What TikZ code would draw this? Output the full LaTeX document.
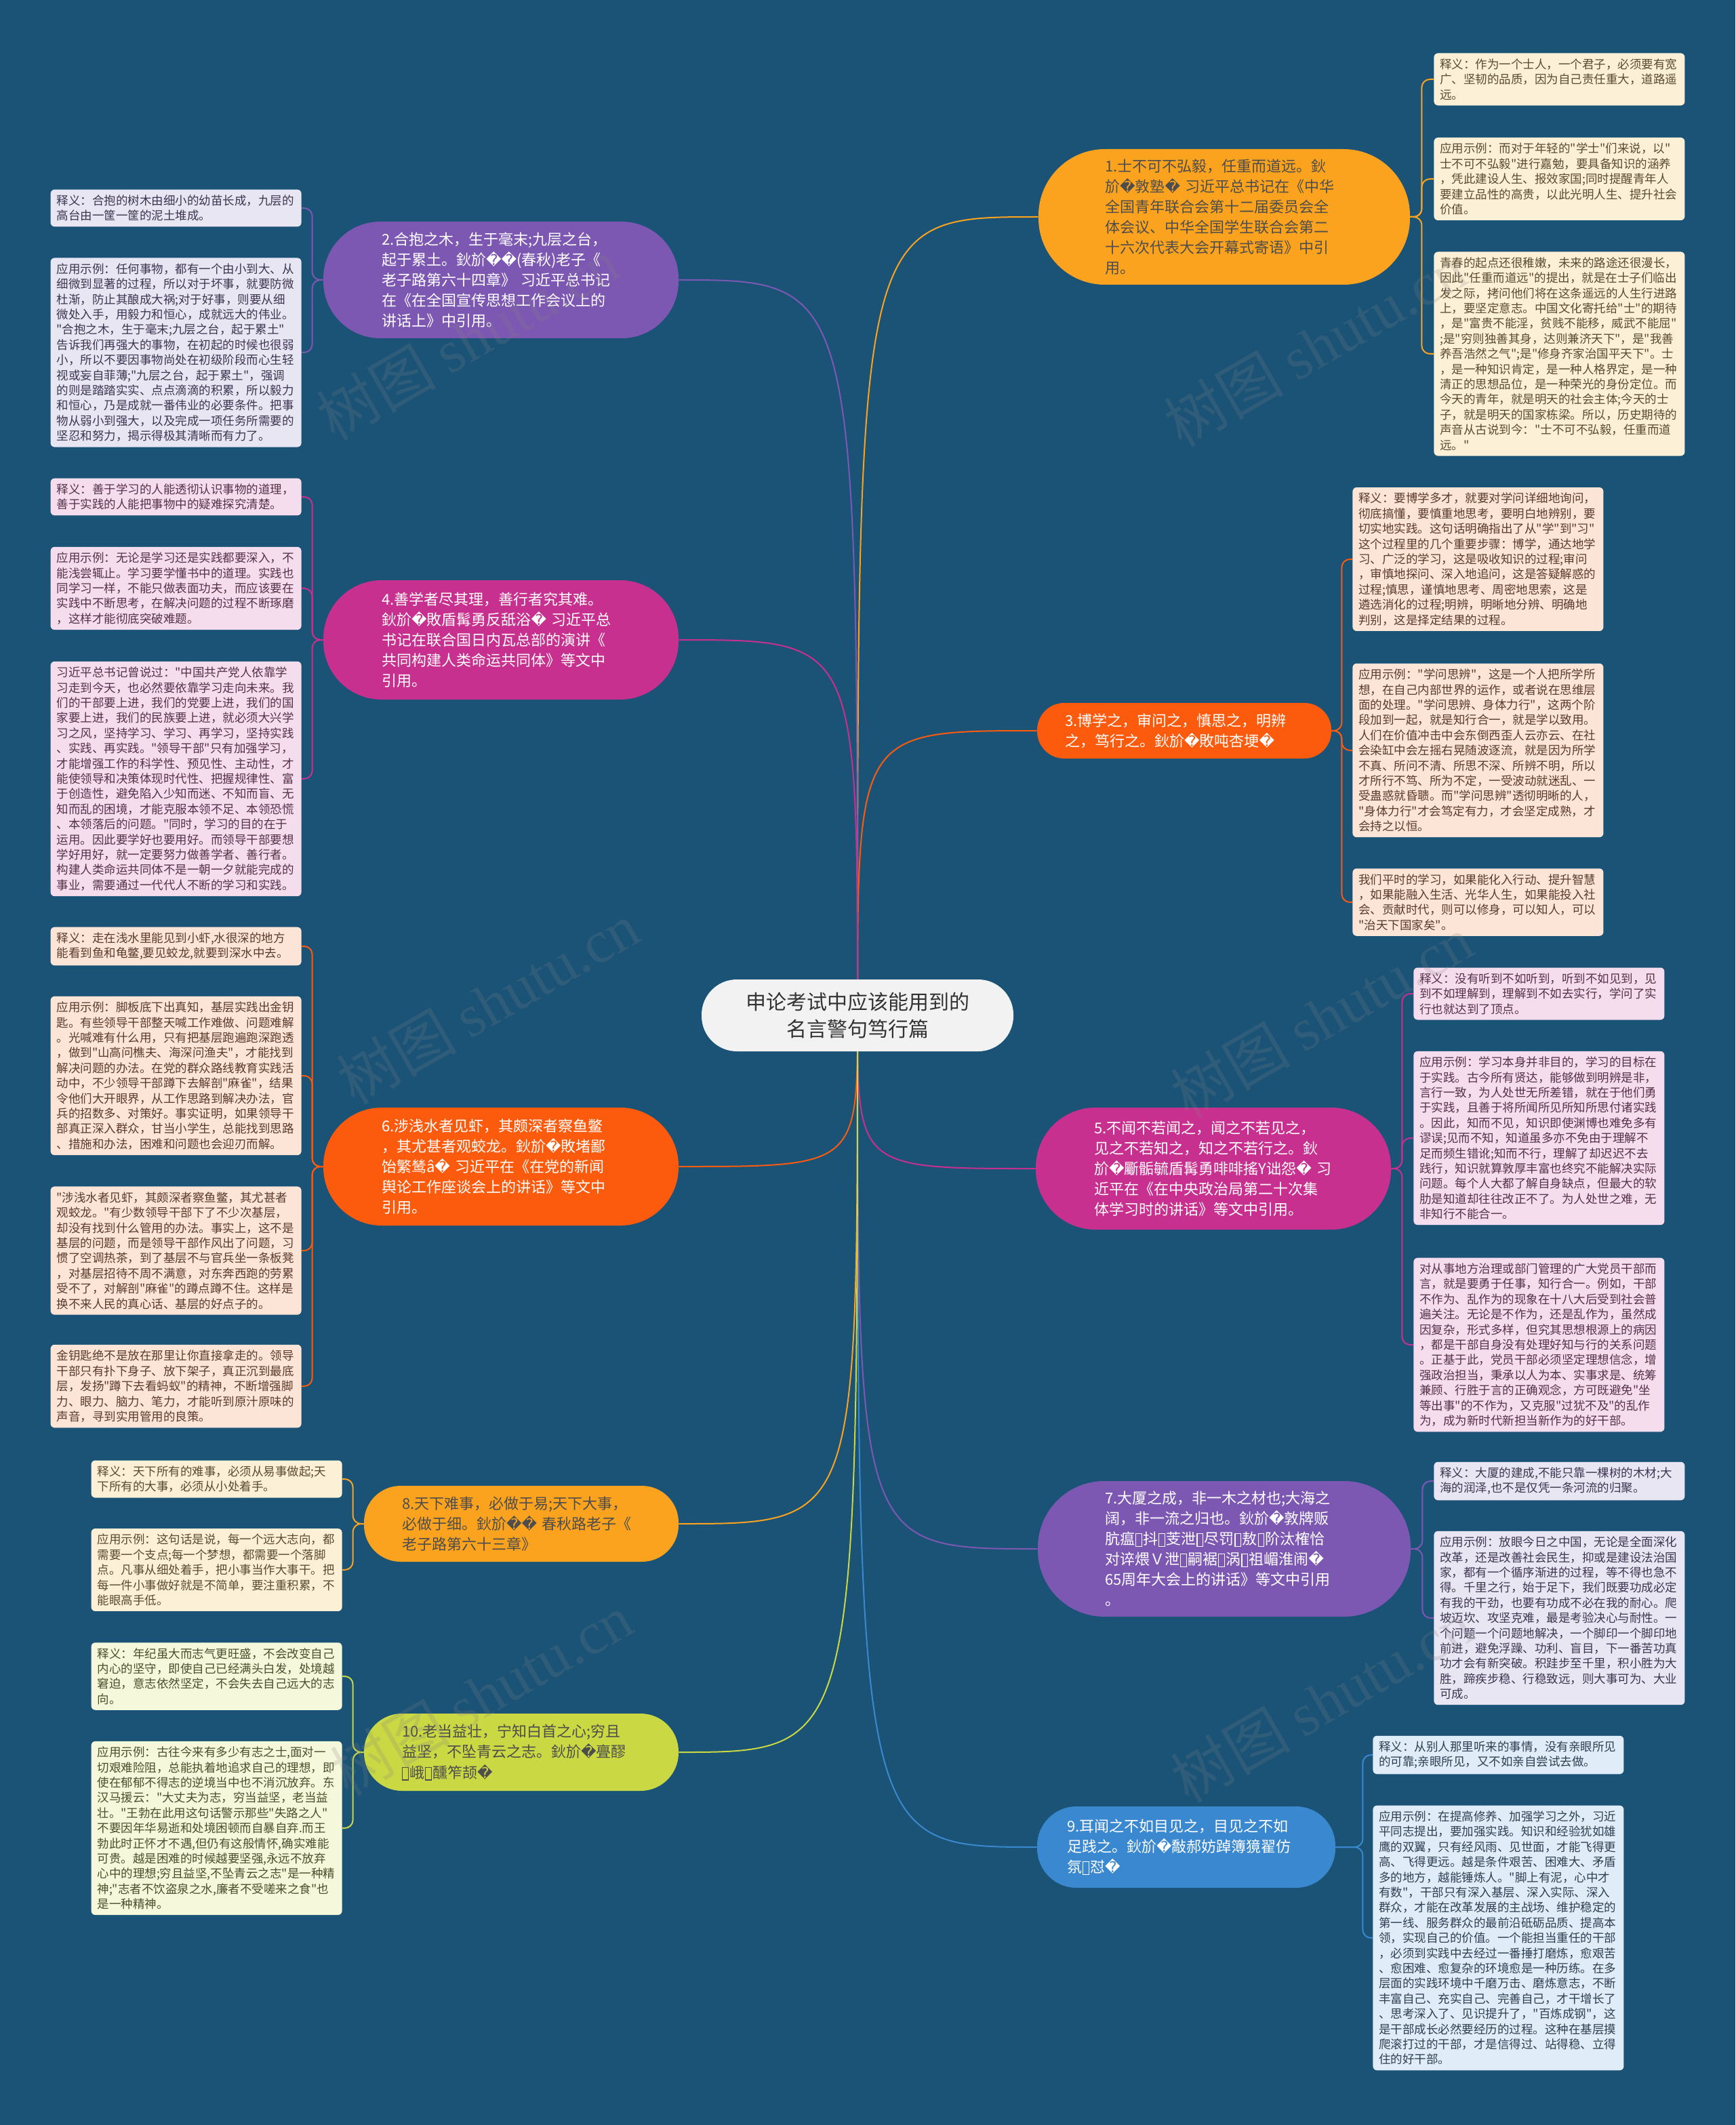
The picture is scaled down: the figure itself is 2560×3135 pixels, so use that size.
\documentclass[tikz,border=0pt]{standalone}
\usepackage{fontspec}
\setmainfont{Noto Sans CJK SC}
\newfontfamily\cjkfont{Noto Sans CJK SC}
\newfontfamily\dvfont{DejaVu Sans}
\newfontfamily\serifwm{Liberation Serif}
\definecolor{bgblue}{HTML}{1B5377}
\definecolor{hubgray}{HTML}{F2F2F2}
\definecolor{hubtext}{HTML}{333333}
\definecolor{darkt}{HTML}{4D4D4D}
\definecolor{cyel}{HTML}{FBA31E}
\definecolor{corg}{HTML}{FC5B0D}
\definecolor{cpur}{HTML}{7D58B3}
\definecolor{cmag}{HTML}{C8308F}
\definecolor{cblu}{HTML}{3A88D0}
\definecolor{clim}{HTML}{C9D843}
\definecolor{creamfill}{HTML}{FCF0D6}
\definecolor{creamtext}{HTML}{5B4A32}
\definecolor{lavfill}{HTML}{E9E6F4}
\definecolor{lavtext}{HTML}{3C3550}
\definecolor{peachfill}{HTML}{FCE4D6}
\definecolor{peachtext}{HTML}{5A3B2B}
\definecolor{pinkfill}{HTML}{F6DDEE}
\definecolor{pinktext}{HTML}{553049}
\definecolor{bluefill}{HTML}{E0ECF8}
\definecolor{bluetext}{HTML}{2E3F52}
\definecolor{limefill}{HTML}{F6F8DC}
\definecolor{limetext}{HTML}{4A4E2A}
\newcommand{\rpl}{{\dvfont\char"FFFD}}
\newcommand{\tofu}{\kern0.05em\begingroup\setlength{\fboxsep}{0pt}\setlength{\fboxrule}{0.6pt}\raisebox{-0.1em}{\framebox[0.45em]{\rule{0pt}{0.8em}}}\endgroup\kern0.05em}
\pgfdeclarelayer{wires}
\pgfsetlayers{wires,main}

\begin{document}
\begin{tikzpicture}[x=0.5pt,y=-0.5pt,
  hub/.style={fill=hubgray, text=hubtext, font=\cjkfont\fontsize{15}{20}\selectfont, align=center, minimum width=230pt, minimum height=53pt, rounded corners=26pt, inner sep=0pt},
  topic/.style={text width=176pt, align=left, inner sep=0pt, font=\cjkfont\fontsize{11}{15}\selectfont, text=white},
  leafbox/.style={text width=176pt, align=left, inner xsep=4.5pt, inner ysep=4pt, rounded corners=3pt, font=\cjkfont\fontsize{8.75}{11.2}\selectfont},
  leafcream/.style={leafbox, fill=creamfill, text=creamtext},
  leaflav/.style={leafbox, fill=lavfill, text=lavtext},
  leafpeach/.style={leafbox, fill=peachfill, text=peachtext},
  leafpink/.style={leafbox, fill=pinkfill, text=pinktext},
  leafblue/.style={leafbox, fill=bluefill, text=bluetext},
  leaflime/.style={leafbox, fill=limefill, text=limetext},
  wire/.style={line width=1pt},
  bracket/.style={line width=1pt, rounded corners=6pt},
  wmark/.style={text=gray, opacity=0.2, rotate=30, font=\cjkfont\fontsize{44}{44}\selectfont}]
\useasboundingbox (0,0) rectangle (2560,3135);

\node[hub] (hub) at (1265,1498) {申论考试中应该能用到的\\名言警句笃行篇};

\node[topic, fill=cyel, text=darkt, minimum width=274pt, minimum height=100pt, rounded corners=49pt] (t1) at (1806,320) {1.士不可不弘毅，任重而道远。鈥\\斺\rpl 敦塾\rpl\ 习近平总书记在《中华\\全国青年联合会第十二届委员会全\\体会议、中华全国学生联合会第二\\十六次代表大会开幕式寄语》中引\\用。};
\node[topic, fill=cpur, minimum width=262pt, minimum height=86pt, rounded corners=42pt] (t2) at (739,413) {2.合抱之木，生于毫末;九层之台，\\起于累土。鈥斺\rpl\rpl(春秋)老子《\\老子路第六十四章》 习近平总书记\\在《在全国宣传思想工作会议上的\\讲话上》中引用。};
\node[topic, fill=corg, minimum width=217pt, minimum height=41pt, rounded corners=20pt] (t3) at (1747,1078) {3.博学之，审问之，慎思之，明辨\\之，笃行之。鈥斺\rpl 敗吨杏埂\rpl};
\node[topic, fill=cmag, minimum width=262pt, minimum height=88pt, rounded corners=43pt] (t4) at (739,944) {4.善学者尽其理，善行者究其难。\\鈥斺\rpl 敗盾髯勇反舐浴\rpl\ 习近平总\\书记在联合国日内瓦总部的演讲《\\共同构建人类命运共同体》等文中\\引用。};
\node[topic, fill=cmag, minimum width=262pt, minimum height=90pt, rounded corners=44pt] (t5) at (1790,1724) {5.不闻不若闻之，闻之不若见之，\\见之不若知之，知之不若行之。鈥\\斺\rpl 斸骺毓盾髯勇啡啡搖Y诎怨\rpl\ 习\\近平在《在中央政治局第二十次集\\体学习时的讲话》等文中引用。};
\node[topic, fill=corg, minimum width=262pt, minimum height=87pt, rounded corners=43pt] (t6) at (739,1721) {6.涉浅水者见虾，其颇深者察鱼鳖\\，其尤甚者观蛟龙。鈥斺\rpl 敗堵鄙\\饴繁鸶â\rpl\ 习近平在《在党的新闻\\舆论工作座谈会上的讲话》等文中\\引用。};
\node[topic, fill=cpur, minimum width=275pt, minimum height=100pt, rounded corners=49pt] (t7) at (1806,2285) {7.大厦之成，非一木之材也;大海之\\阔，非一流之归也。鈥斺\rpl 敦牌贩\\肮瘟\tofu 抖\tofu 芰泄\tofu 尽罚\tofu 敖\tofu 阶汰榷恰\\对谇煨Ｖ泄\tofu 嗣裾\tofu 涡\tofu 祖嵋淮闹\rpl\\65周年大会上的讲话》等文中引用\\。};
\node[topic, fill=cyel, text=darkt, minimum width=232pt, minimum height=56pt, rounded corners=27pt] (t8) at (769,2248) {8.天下难事，必做于易;天下大事，\\必做于细。鈥斺\rpl\rpl\ 春秋路老子《\\老子路第六十三章》};
\node[topic, fill=cblu, minimum width=220pt, minimum height=60pt, rounded corners=29pt] (t9) at (1750,2725) {9.耳闻之不如目见之，目见之不如\\足践之。鈥斺\rpl 敽郝妨踔簿獍翟仿\\氛\tofu 怼\rpl};
\node[topic, fill=clim, text=darkt, minimum width=232pt, minimum height=57pt, rounded corners=28pt] (t10) at (769,2585) {10.老当益壮，宁知白首之心;穷且\\益坚，不坠青云之志。鈥斺\rpl 亹醪\\\tofu 峨\tofu 醺笮颉\rpl};

\node[leafcream, anchor=west] (t1a) at (2115,117) {释义：作为一个士人，一个君子，必须要有宽\\广、坚韧的品质，因为自己责任重大，道路遥\\远。};
\node[leafcream, anchor=west] (t1b) at (2115,264) {应用示例：而对于年轻的"学士"们来说，以"\\士不可不弘毅"进行嘉勉，要具备知识的涵养\\，凭此建设人生、报效家国;同时提醒青年人\\要建立品性的高贵，以此光明人生、提升社会\\价值。};
\node[leafcream, anchor=west] (t1c) at (2115,522) {青春的起点还很稚嫩，未来的路途还很漫长，\\因此"任重而道远"的提出，就是在士子们临出\\发之际，拷问他们将在这条遥远的人生行进路\\上，要坚定意志。中国文化寄托给"士"的期待\\，是"富贵不能淫，贫贱不能移，威武不能屈"\\;是"穷则独善其身，达则兼济天下"，是"我善\\养吾浩然之气";是"修身齐家治国平天下"。士\\，是一种知识肯定，是一种人格界定，是一种\\清正的思想品位，是一种荣光的身份定位。而\\今天的青年，就是明天的社会主体;今天的士\\子，就是明天的国家栋梁。所以，历史期待的\\声音从古说到今："士不可不弘毅，任重而道\\远。"};

\node[leaflav, anchor=east] (t2a) at (445,307) {释义：合抱的树木由细小的幼苗长成，九层的\\高台由一筐一筐的泥土堆成。};
\node[leaflav, anchor=east] (t2b) at (445,520) {应用示例：任何事物，都有一个由小到大、从\\细微到显著的过程，所以对于坏事，就要防微\\杜渐，防止其酿成大祸;对于好事，则要从细\\微处入手，用毅力和恒心，成就远大的伟业。\\"合抱之木，生于毫末;九层之台，起于累土"\\告诉我们再强大的事物，在初起的时候也很弱\\小，所以不要因事物尚处在初级阶段而心生轻\\视或妄自菲薄;"九层之台，起于累土"，强调\\的则是踏踏实实、点点滴滴的积累，所以毅力\\和恒心，乃是成就一番伟业的必要条件。把事\\物从弱小到强大，以及完成一项任务所需要的\\坚忍和努力，揭示得极其清晰而有力了。};

\node[leafpeach, anchor=west] (t3a) at (1995,825) {释义：要博学多才，就要对学问详细地询问，\\彻底搞懂，要慎重地思考，要明白地辨别，要\\切实地实践。这句话明确指出了从"学"到"习"\\这个过程里的几个重要步骤：博学，通达地学\\习、广泛的学习，这是吸收知识的过程;审问\\，审慎地探问、深入地追问，这是答疑解惑的\\过程;慎思，谨慎地思考、周密地思索，这是\\遴选消化的过程;明辨，明晰地分辨、明确地\\判别，这是择定结果的过程。};
\node[leafpeach, anchor=west] (t3b) at (1995,1107) {应用示例："学问思辨"，这是一个人把所学所\\想，在自己内部世界的运作，或者说在思维层\\面的处理。"学问思辨、身体力行"，这两个阶\\段加到一起，就是知行合一，就是学以致用。\\人们在价值冲击中会东倒西歪人云亦云、在社\\会染缸中会左摇右晃随波逐流，就是因为所学\\不真、所问不清、所思不深、所辨不明，所以\\才所行不笃、所为不定，一受波动就迷乱、一\\受蛊惑就昏聩。而"学问思辨"透彻明晰的人，\\"身体力行"才会笃定有力，才会坚定成熟，才\\会持之以恒。};
\node[leafpeach, anchor=west] (t3c) at (1995,1331) {我们平时的学习，如果能化入行动、提升智慧\\，如果能融入生活、光华人生，如果能投入社\\会、贡献时代，则可以修身，可以知人，可以\\"治天下国家矣"。};

\node[leafpink, anchor=east] (t4a) at (445,733) {释义：善于学习的人能透彻认识事物的道理，\\善于实践的人能把事物中的疑难探究清楚。};
\node[leafpink, anchor=east] (t4b) at (445,868) {应用示例：无论是学习还是实践都要深入，不\\能浅尝辄止。学习要学懂书中的道理。实践也\\同学习一样，不能只做表面功夫，而应该要在\\实践中不断思考，在解决问题的过程不断琢磨\\，这样才能彻底突破难题。};
\node[leafpink, anchor=east] (t4c) at (445,1149) {习近平总书记曾说过："中国共产党人依靠学\\习走到今天，也必然要依靠学习走向未来。我\\们的干部要上进，我们的党要上进，我们的国\\家要上进，我们的民族要上进，就必须大兴学\\习之风，坚持学习、学习、再学习，坚持实践\\、实践、再实践。"领导干部"只有加强学习，\\才能增强工作的科学性、预见性、主动性，才\\能使领导和决策体现时代性、把握规律性、富\\于创造性，避免陷入少知而迷、不知而盲、无\\知而乱的困境，才能克服本领不足、本领恐慌\\、本领落后的问题。"同时，学习的目的在于\\运用。因此要学好也要用好。而领导干部要想\\学好用好，就一定要努力做善学者、善行者。\\构建人类命运共同体不是一朝一夕就能完成的\\事业，需要通过一代代人不断的学习和实践。};

\node[leafpink, anchor=west] (t5a) at (2085,1466) {释义：没有听到不如听到，听到不如见到，见\\到不如理解到，理解到不如去实行，学问了实\\行也就达到了顶点。};
\node[leafpink, anchor=west] (t5b) at (2085,1679) {应用示例：学习本身并非目的，学习的目标在\\于实践。古今所有贤达，能够做到明辨是非，\\言行一致，为人处世无所差错，就在于他们勇\\于实践，且善于将所闻所见所知所思付诸实践\\。因此，知而不见，知识即使渊博也难免多有\\谬误;见而不知，知道虽多亦不免由于理解不\\足而频生错讹;知而不行，理解了却迟迟不去\\践行，知识就算敦厚丰富也终究不能解决实际\\问题。每个人大都了解自身缺点，但最大的软\\肋是知道却往往改正不了。为人处世之难，无\\非知行不能合一。};
\node[leafpink, anchor=west] (t5c) at (2085,1984) {对从事地方治理或部门管理的广大党员干部而\\言，就是要勇于任事，知行合一。例如，干部\\不作为、乱作为的现象在十八大后受到社会普\\遍关注。无论是不作为，还是乱作为，虽然成\\因复杂，形式多样，但究其思想根源上的病因\\，都是干部自身没有处理好知与行的关系问题\\。正基于此，党员干部必须坚定理想信念，增\\强政治担当，秉承以人为本、实事求是、统筹\\兼顾、行胜于言的正确观念，方可既避免"坐\\等出事"的不作为，又克服"过犹不及"的乱作\\为，成为新时代新担当新作为的好干部。};

\node[leafpeach, anchor=east] (t6a) at (445,1396) {释义：走在浅水里能见到小虾,水很深的地方\\能看到鱼和龟鳖,要见蛟龙,就要到深水中去。};
\node[leafpeach, anchor=east] (t6b) at (445,1587) {应用示例：脚板底下出真知，基层实践出金钥\\匙。有些领导干部整天喊工作难做、问题难解\\。光喊难有什么用，只有把基层跑遍跑深跑透\\，做到"山高问樵夫、海深问渔夫"，才能找到\\解决问题的办法。在党的群众路线教育实践活\\动中，不少领导干部蹲下去解剖"麻雀"，结果\\令他们大开眼界，从工作思路到解决办法，官\\兵的招数多、对策好。事实证明，如果领导干\\部真正深入群众，甘当小学生，总能找到思路\\、措施和办法，困难和问题也会迎刃而解。};
\node[leafpeach, anchor=east] (t6c) at (445,1845) {"涉浅水者见虾，其颇深者察鱼鳖，其尤甚者\\观蛟龙。"有少数领导干部下了不少次基层，\\却没有找到什么管用的办法。事实上，这不是\\基层的问题，而是领导干部作风出了问题，习\\惯了空调热茶，到了基层不与官兵坐一条板凳\\，对基层招待不周不满意，对东奔西跑的劳累\\受不了，对解剖"麻雀"的蹲点蹲不住。这样是\\换不来人民的真心话、基层的好点子的。};
\node[leafpeach, anchor=east] (t6d) at (445,2045) {金钥匙绝不是放在那里让你直接拿走的。领导\\干部只有扑下身子、放下架子，真正沉到最底\\层，发扬"蹲下去看蚂蚁"的精神，不断增强脚\\力、眼力、脑力、笔力，才能听到原汁原味的\\声音，寻到实用管用的良策。};

\node[leaflav, anchor=west] (t7a) at (2115,2185) {释义：大厦的建成,不能只靠一棵树的木材;大\\海的润泽,也不是仅凭一条河流的归聚。};
\node[leaflav, anchor=west] (t7b) at (2115,2387) {应用示例：放眼今日之中国，无论是全面深化\\改革，还是改善社会民生，抑或是建设法治国\\家，都有一个循序渐进的过程，等不得也急不\\得。千里之行，始于足下，我们既要功成必定\\有我的干劲，也要有功成不必在我的耐心。爬\\坡迈坎、攻坚克难，最是考验决心与耐性。一\\个问题一个问题地解决，一个脚印一个脚印地\\前进，避免浮躁、功利、盲目，下一番苦功真\\功才会有新突破。积跬步至千里，积小胜为大\\胜，蹄疾步稳、行稳致远，则大事可为、大业\\可成。};

\node[leafcream, anchor=east] (t8a) at (505,2182) {释义：天下所有的难事，必须从易事做起;天\\下所有的大事，必须从小处着手。};
\node[leafcream, anchor=east] (t8b) at (505,2316) {应用示例：这句话是说，每一个远大志向，都\\需要一个支点;每一个梦想，都需要一个落脚\\点。凡事从细处着手，把小事当作大事干。把\\每一件小事做好就是不简单，要注重积累，不\\能眼高手低。};

\node[leafblue, anchor=west] (t9a) at (2025,2589) {释义：从别人那里听来的事情，没有亲眼所见\\的可靠;亲眼所见，又不如亲自尝试去做。};
\node[leafblue, anchor=west] (t9b) at (2025,2859) {应用示例：在提高修养、加强学习之外，习近\\平同志提出，要加强实践。知识和经验犹如雄\\鹰的双翼，只有经风雨、见世面，才能飞得更\\高、飞得更远。越是条件艰苦、困难大、矛盾\\多的地方，越能锤炼人。"脚上有泥，心中才\\有数"，干部只有深入基层、深入实际、深入\\群众，才能在改革发展的主战场、维护稳定的\\第一线、服务群众的最前沿砥砺品质、提高本\\领，实现自己的价值。一个能担当重任的干部\\，必须到实践中去经过一番捶打磨炼，愈艰苦\\、愈困难、愈复杂的环境愈是一种历练。在多\\层面的实践环境中千磨万击、磨炼意志，不断\\丰富自己、充实自己、完善自己，才干增长了\\、思考深入了、见识提升了，"百炼成钢"，这\\是干部成长必然要经历的过程。这种在基层摸\\爬滚打过的干部，才是信得过、站得稳、立得\\住的好干部。};

\node[leaflime, anchor=east] (t10a) at (505,2473) {释义：年纪虽大而志气更旺盛，不会改变自己\\内心的坚守，即使自己已经满头白发，处境越\\窘迫，意志依然坚定，不会失去自己远大的志\\向。};
\node[leaflime, anchor=east] (t10b) at (505,2697) {应用示例：古往今来有多少有志之士,面对一\\切艰难险阻，总能执着地追求自己的理想，即\\使在郁郁不得志的逆境当中也不消沉放弃。东\\汉马援云："大丈夫为志，穷当益坚，老当益\\壮。"王勃在此用这句话警示那些"失路之人"\\不要因年华易逝和处境困顿而自暴自弃.而王\\勃此时正怀才不遇,但仍有这般情怀,确实难能\\可贵。越是困难的时候越要坚强,永远不放弃\\心中的理想;穷且益坚,不坠青云之志"是一种精\\神;"志者不饮盗泉之水,廉者不受嗟来之食"也\\是一种精神。};

\begin{pgfonlayer}{wires}
\fill[bgblue] (0,0) rectangle (2560,3135);
\draw[wire, cyel] (hub.center) .. controls (hub.center |- t1.west) .. (t1.west);
\draw[wire, cpur] (hub.center) .. controls (hub.center |- t2.east) .. (t2.east);
\draw[wire, corg] (hub.center) .. controls (hub.center |- t3.west) .. (t3.west);
\draw[wire, cmag] (hub.center) .. controls (hub.center |- t4.east) .. (t4.east);
\draw[wire, cmag] (hub.center) .. controls (hub.center |- t5.west) .. (t5.west);
\draw[wire, corg] (hub.center) .. controls (hub.center |- t6.east) .. (t6.east);
\draw[wire, cpur] (hub.center) .. controls (hub.center |- t7.west) .. (t7.west);
\draw[wire, cyel] (hub.center) .. controls (hub.center |- t8.east) .. (t8.east);
\draw[wire, cblu] (hub.center) .. controls (hub.center |- t9.west) .. (t9.west);
\draw[wire, clim] (hub.center) .. controls (hub.center |- t10.east) .. (t10.east);
\foreach \lf in {t1a,t1b,t1c} \draw[bracket, cyel] (t1.east) -- ++(17,0) |- (\lf.west);
\foreach \lf in {t3a,t3b,t3c} \draw[bracket, corg] (t3.east) -- ++(15,0) |- (\lf.west);
\foreach \lf in {t5a,t5b,t5c} \draw[bracket, cmag] (t5.east) -- ++(16,0) |- (\lf.west);
\foreach \lf in {t7a,t7b} \draw[bracket, cpur] (t7.east) -- ++(17,0) |- (\lf.west);
\foreach \lf in {t9a,t9b} \draw[bracket, cblu] (t9.east) -- ++(40,0) |- (\lf.west);
\foreach \lf in {t2a,t2b} \draw[bracket, cpur] (t2.west) -- ++(-16,0) |- (\lf.east);
\foreach \lf in {t4a,t4b,t4c} \draw[bracket, cmag] (t4.west) -- ++(-16,0) |- (\lf.east);
\foreach \lf in {t6a,t6b,t6c,t6d} \draw[bracket, corg] (t6.west) -- ++(-16,0) |- (\lf.east);
\foreach \lf in {t8a,t8b} \draw[bracket, cyel] (t8.west) -- ++(-16,0) |- (\lf.east);
\foreach \lf in {t10a,t10b} \draw[bracket, clim] (t10.west) -- ++(-16,0) |- (\lf.east);
\end{pgfonlayer}

\node[wmark] (w1) at (690,500) {树图 {\serifwm shutu.cn}};
\node[wmark] (w2) at (1940,510) {树图 {\serifwm shutu.cn}};
\node[wmark] (w3) at (720,1480) {树图 {\serifwm shutu.cn}};
\node[wmark] (w4) at (1950,1500) {树图 {\serifwm shutu.cn}};
\node[wmark] (w5) at (710,2500) {树图 {\serifwm shutu.cn}};
\node[wmark] (w6) at (1950,2510) {树图 {\serifwm shutu.cn}};
\end{tikzpicture}
\end{document}
